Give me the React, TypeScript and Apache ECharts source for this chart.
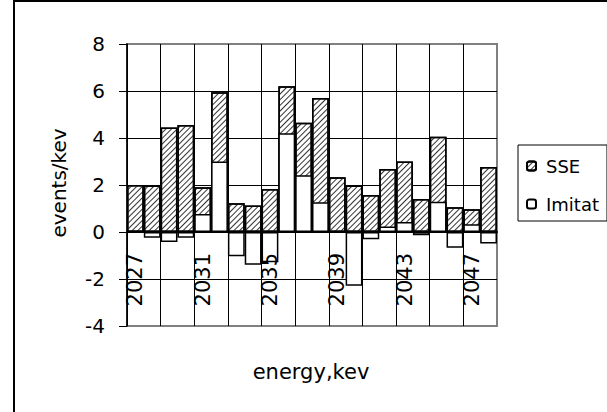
import React, { useEffect, useRef } from "react";
import * as echarts from "echarts";

const categories = [
  "2027", "2028", "2029", "2030", "2031", "2032", "2033", "2034", "2035", "2036", "2037",
  "2038", "2039", "2040", "2041", "2042", "2043", "2044", "2045", "2046", "2047", "2048",
];
const sseValues = [
  2.0, 1.98, 4.45, 4.55, 1.9, 5.95, 1.22, 1.13, 1.83, 6.2, 4.65,
  5.7, 2.33, 1.98, 1.57, 2.68, 3.0, 1.4, 4.05, 1.05, 0.97, 2.77,
];
const imitatValues = [
  0.05, -0.24, -0.43, -0.24, 0.77, 3.0, -1.03, -1.39, -1.29, 4.2, 2.41,
  1.27, 0.0, -2.29, -0.31, 0.23, 0.43, -0.14, 1.29, -0.67, 0.33, -0.49,
];
const yTicks = { min: -4, max: 8, interval: 2 };
const FONT = "DejaVu Sans";

export default function App() {
  const ref = useRef<HTMLDivElement>(null);
  useEffect(() => {
    if (!ref.current) return;
    const chart = echarts.init(ref.current, undefined, { renderer: "svg" });
    const option: any = {
      animation: false,
      backgroundColor: "#fff",
      grid: {
        left: 127,
        right: 110,
        top: 44,
        bottom: 86,
        show: true,
        borderColor: "#808080",
        borderWidth: 2,
        backgroundColor: "transparent",
      },
      legend: {
        orient: "vertical",
        left: 518,
        top: 145,
        borderColor: "#000",
        borderWidth: 1,
        padding: [12, 8, 8, 8],
        itemWidth: 9,
        itemHeight: 9,
        itemGap: 20,
        textStyle: { fontSize: 18, fontFamily: FONT, color: "#000", padding: [0, 0, 0, 5] },
        data: ["SSE", "Imitat"],
      },
      xAxis: [
        {
          type: "category",
          data: categories,
          z: 10,
          boundaryGap: true,
          axisLine: { show: true, onZero: true, lineStyle: { color: "#000", width: 2 } },
          axisTick: { show: false },
          splitLine: { show: false },
          axisLabel: { show: false },
        },
        {
          type: "category",
          data: categories,
          position: "bottom",
          z: 10,
          boundaryGap: true,
          axisLine: { show: false, onZero: false },
          axisTick: { show: false },
          splitLine: { show: false },
          axisLabel: {
            show: true,
            interval: 3,
            rotate: 90,
            margin: -73,
            fontSize: 21,
            fontFamily: FONT,
            color: "#000",
          },
        },
        {
          type: "category",
          data: categories,
          position: "bottom",
          boundaryGap: true,
          axisLine: { show: false, onZero: false },
          axisTick: { show: false },
          axisLabel: { show: false },
          splitLine: {
            show: true,
            interval: 1,
            lineStyle: {
              color: ["#000", "#000", "#000", "#000", "#000", "#000", "#000", "#000", "#000", "#000", "#000", "#808080"],
              width: 1,
            },
          },
        },
      ],
      yAxis: {
        type: "value",
        min: yTicks.min,
        max: yTicks.max,
        interval: yTicks.interval,
        axisLine: { show: true, lineStyle: { color: "#000", width: 1.5 } },
        axisTick: { show: true, inside: false, length: 8, lineStyle: { color: "#000", width: 1 } },
        axisLabel: { margin: 22, fontSize: 20, fontFamily: FONT, color: "#000" },
        splitLine: {
          show: true,
          lineStyle: {
            color: ["#808080", "#000", "#000", "#000", "#000", "#000", "#808080"],
            width: 1,
          },
        },
      },
      series: [
        {
          name: "SSE",
          type: "bar",
          data: sseValues,
          barWidth: "100%",
          barGap: "-100%",
          itemStyle: {
            color: "#fff",
            borderColor: "#000",
            borderWidth: 1.5,
            decal: {
              symbol: "rect",
              symbolSize: 1,
              dashArrayX: [1, 0],
              dashArrayY: [1, 2.5],
              rotation: -Math.PI / 4,
              color: "#333",
            },
          },
        },
        {
          name: "Imitat",
          type: "bar",
          data: imitatValues,
          barWidth: "100%",
          barGap: "-100%",
          itemStyle: { color: "#fff", borderColor: "#000", borderWidth: 1.5 },
        },
      ],
      graphic: [
        {
          type: "rect",
          shape: { x: 14, y: 1, width: 1000, height: 1000 },
          style: { fill: "none", stroke: "#000", lineWidth: 2 },
          silent: true,
        },
        {
          type: "text",
          x: 59,
          y: 183,
          rotation: Math.PI / 2,
          style: {
            text: "events/kev",
            fontSize: 20,
            fontFamily: FONT,
            fill: "#000",
            textAlign: "center",
            textVerticalAlign: "middle",
          },
        },
        {
          type: "text",
          x: 311,
          y: 372,
          style: {
            text: "energy,kev",
            fontSize: 21,
            fontFamily: FONT,
            fill: "#000",
            textAlign: "center",
            textVerticalAlign: "middle",
          },
        },
      ],
    };
    chart.setOption(option);
    return () => chart.dispose();
  }, []);
  return (
    <div
      ref={ref}
      style={{ position: "fixed", left: 0, top: 0, width: 607, height: 412, background: "#fff" }}
    />
  );
}
